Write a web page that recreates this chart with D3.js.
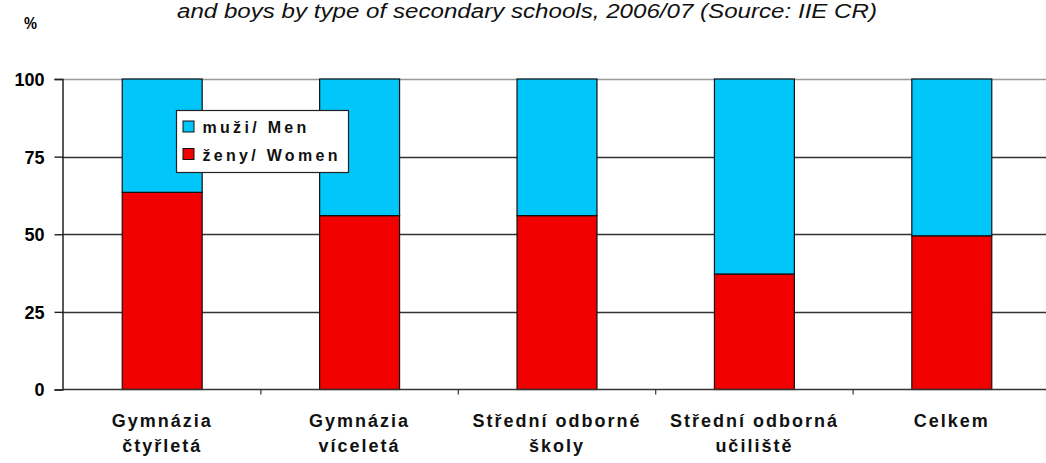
<!DOCTYPE html>
<html>
<head>
<meta charset="utf-8">
<script src="https://cdn.jsdelivr.net/npm/d3@7"></script>
<style>
  body { margin: 0; background: #fff; }
  svg { display: block; }
</style>
</head>
<body>
<div id="chart"></div>
<script>
// Data
const categories = ["Gymnázia čtyřletá", "Gymnázia víceletá", "Střední odborné školy", "Střední odborná učiliště", "Celkem"];
const catLines = [["Gymnázia", "čtyřletá"], ["Gymnázia", "víceletá"], ["Střední odborné", "školy"], ["Střední odborná", "učiliště"], ["Celkem"]];
const women = [63.5, 56, 56, 37.2, 49.5];
const men = women.map(v => 100 - v);
const yTicks = [0, 25, 50, 75, 100];
const seriesNames = ["muži/ Men", "ženy/ Women"];

const width = 1046, height = 463;
const colors = { men: "#00c6fa", women: "#f20000" };
const boldFont = "Arial, 'Liberation Sans', sans-serif";

const svg = d3.select("#chart").append("svg")
    .attr("width", width)
    .attr("height", height);

// Scales
const x = d3.scaleBand()
    .domain(categories)
    .range([63.5, 1050.5])
    .paddingInner(0.595)
    .paddingOuter(0.2975);

const y = d3.scaleLinear()
    .domain([0, 100])
    .range([389.5, 79]);

// Title (second line of the source title, sitting at the very top)
svg.append("text")
    .attr("x", 527)
    .attr("y", 18)
    .attr("text-anchor", "middle")
    .attr("font-family", "Arial, 'Liberation Sans', sans-serif")
    .attr("font-style", "italic")
    .attr("font-size", 20)
    .attr("textLength", 700)
    .attr("lengthAdjust", "spacingAndGlyphs")
    .attr("fill", "#111")
    .text("and boys by type of secondary schools, 2006/07 (Source: IIE CR)");

svg.append("text")
    .attr("x", 24)
    .attr("y", 29)
    .attr("font-family", boldFont)
    .attr("font-weight", "bold")
    .attr("font-size", 17)
    .attr("textLength", 13)
    .attr("lengthAdjust", "spacingAndGlyphs")
    .text("%");

// Grid lines
svg.append("g")
    .selectAll("line")
    .data(yTicks.filter(d => d > 0))
    .join("line")
    .attr("x1", 62)
    .attr("x2", width)
    .attr("y1", d => Math.round(y(d)) + 0.5)
    .attr("y2", d => Math.round(y(d)) + 0.5)
    .attr("stroke", d => d === 100 ? "#999" : "#333")
    .attr("stroke-width", 1.4);

// Y axis
const yAxis = svg.append("g")
    .attr("transform", "translate(62.5,0)")
    .call(d3.axisLeft(y).tickValues(yTicks).tickSize(8).tickPadding(10));
yAxis.select(".domain").attr("stroke", "#222").attr("stroke-width", 1.5);
yAxis.selectAll(".tick line").attr("stroke", "#222").attr("stroke-width", 1.4);
yAxis.selectAll(".tick text")
    .attr("font-family", boldFont)
    .attr("font-weight", "bold")
    .attr("font-size", 18)
    .attr("dy", "0.36em")
    .attr("fill", "#000");

// Stacked bars
const stackData = categories.map((c, i) => ({ cat: c, women: women[i], men: men[i] }));
const stacked = d3.stack().keys(["women", "men"])(stackData);

svg.append("g")
    .selectAll("g")
    .data(stacked)
    .join("g")
    .attr("fill", d => colors[d.key])
    .selectAll("rect")
    .data(d => d)
    .join("rect")
    .attr("x", d => x(d.data.cat))
    .attr("y", d => y(d[1]))
    .attr("width", x.bandwidth())
    .attr("height", d => y(d[0]) - y(d[1]))
    .attr("stroke", "#111")
    .attr("stroke-width", 1.2);

// X axis line and ticks between categories
svg.append("line")
    .attr("x1", 62)
    .attr("x2", width)
    .attr("y1", y(0))
    .attr("y2", y(0))
    .attr("stroke", "#333")
    .attr("stroke-width", 1.5);

const gap = (x.step() - x.bandwidth()) / 2;
svg.append("g")
    .selectAll("line")
    .data(categories.slice(1))
    .join("line")
    .attr("x1", d => x(d) - gap)
    .attr("x2", d => x(d) - gap)
    .attr("y1", y(0))
    .attr("y2", y(0) + 5)
    .attr("stroke", "#333")
    .attr("stroke-width", 1.2);

// Category labels
const labels = svg.append("g")
    .selectAll("text")
    .data(categories)
    .join("text")
    .attr("x", d => x(d) + x.bandwidth() / 2)
    .attr("y", 427)
    .attr("text-anchor", "middle")
    .attr("font-family", boldFont)
    .attr("font-weight", "bold")
    .attr("font-size", 18)
    .attr("letter-spacing", 2)
    .attr("fill", "#111");
labels.selectAll("tspan")
    .data((d, i) => catLines[i])
    .join("tspan")
    .attr("x", function () { return d3.select(this.parentNode).attr("x"); })
    .attr("dy", (d, j) => j === 0 ? 0 : 25)
    .text(d => d);

// Legend
const legend = svg.append("g").attr("transform", "translate(176.5,110.5)");
legend.append("rect")
    .attr("width", 172)
    .attr("height", 62)
    .attr("fill", "#fff")
    .attr("stroke", "#222")
    .attr("stroke-width", 1.2);
const legendColors = [colors.men, colors.women];
seriesNames.forEach((name, i) => {
    legend.append("rect")
        .attr("x", 6.5)
        .attr("y", 10.5 + i * 27.5)
        .attr("width", 11)
        .attr("height", 11)
        .attr("fill", legendColors[i])
        .attr("stroke", "#111");
    legend.append("text")
        .attr("x", 26)
        .attr("y", 22 + i * 28)
        .attr("font-family", boldFont)
        .attr("font-weight", "bold")
        .attr("font-size", 16)
        .attr("letter-spacing", 3.3)
        .attr("fill", "#111")
        .text(name);
});
</script>
</body>
</html>
